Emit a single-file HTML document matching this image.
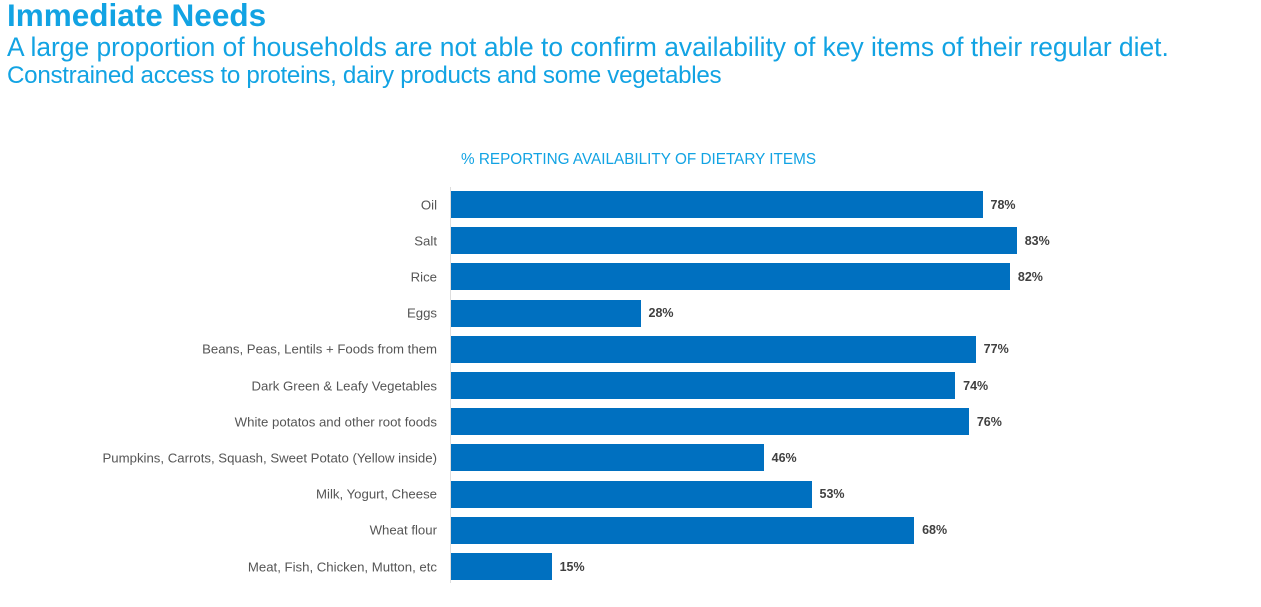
<!DOCTYPE html>
<html><head><meta charset="utf-8"><style>
body{margin:0;width:1261px;height:607px;background:#fff;font-family:"Liberation Sans",sans-serif;position:relative;overflow:hidden}
.t{position:absolute;left:7px;color:#12a3e3;white-space:nowrap}
.lab{position:absolute;right:824px;font-size:13.2px;color:#555;white-space:nowrap;transform:translateY(-50%)}
.bar{position:absolute;left:451px;height:27px;background:#0070c0}
.val{position:absolute;font-size:12.5px;font-weight:bold;color:#404040;transform:translateY(-50%)}
</style></head><body>
<div class="t" style="top:-3px;font-size:31.5px;font-weight:bold">Immediate Needs</div>
<div class="t" style="top:32px;font-size:26.4px">A large proportion of households are not able to confirm availability of key items of their regular diet.</div>
<div class="t" style="top:62px;font-size:24.2px;letter-spacing:-0.3px">Constrained access to proteins, dairy products and some vegetables</div>
<div style="position:absolute;left:461px;top:151px;font-size:15.3px;color:#12a3e3">% REPORTING AVAILABILITY OF DIETARY ITEMS</div>
<div style="position:absolute;left:450px;top:187px;width:1px;height:396px;background:#ddd"></div>
<div id="c"></div>
<script>
var d=[["Oil",78],["Salt",83],["Rice",82],["Eggs",28],["Beans, Peas, Lentils + Foods from them",77],["Dark Green &amp; Leafy Vegetables",74],["White potatos and other root foods",76],["Pumpkins, Carrots, Squash, Sweet Potato (Yellow inside)",46],["Milk, Yogurt, Cheese",53],["Wheat flour",68],["Meat, Fish, Chicken, Mutton, etc",15]];
var h="";d.forEach(function(r,i){var top=191+i*36.2,cy=top+13.5,w=r[1]*6.84-2;
h+='<div class="lab" style="top:'+cy+'px">'+r[0]+'</div><div class="bar" style="top:'+top+'px;width:'+w+'px"></div><div class="val" style="top:'+cy+'px;left:'+(451+w+8)+'px">'+r[1]+'%</div>';});
document.getElementById("c").innerHTML=h;
</script>
</body></html>
